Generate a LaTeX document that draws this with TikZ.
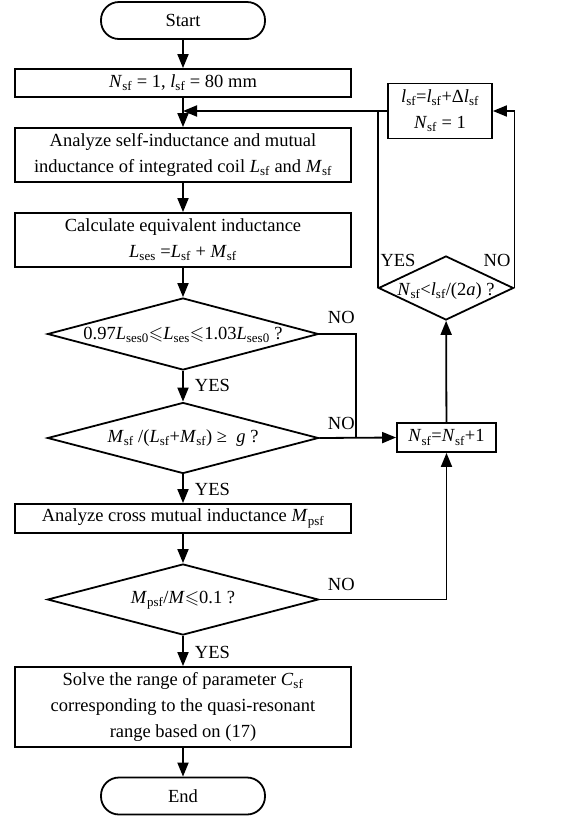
\documentclass[tikz,border=0pt]{standalone}
\usepackage{fontspec}
\setmainfont{Liberation Serif}
\usepackage{amssymb}
\usetikzlibrary{arrows.meta,shapes.geometric}
\newcommand{\vsub}[2]{\textit{#1}\textsubscript{#2}}

\begin{document}
\begin{tikzpicture}[x=1pt,y=-1pt,
  font=\fontsize{18.5}{26}\selectfont,
  line width=1.8pt,
  box/.style={draw,rectangle,align=center,inner sep=0pt,minimum width=336pt},
  term/.style={draw,rectangle,rounded corners=18pt,minimum width=164pt,minimum height=37pt,inner sep=0pt},
  dia/.style={draw,diamond,inner sep=0pt},
  arr/.style={-{Triangle[length=14pt,width=11pt]}},
  lab/.style={inner sep=0pt,anchor=west}]
\useasboundingbox (0,0) rectangle (565,820);

% main column
\node[term] (start) at (183,20.5) {Start};
\node[box,minimum height=28pt] (init) at (183,83) {\vsub{N}{sf} = 1, \vsub{l}{sf} = 80 mm};
\node[box,minimum height=54pt] (self) at (183,155)
  {Analyze self-inductance and mutual\\inductance of integrated coil \vsub{L}{sf} and \vsub{M}{sf}};
\node[box,minimum height=54pt] (equi) at (183,240)
  {Calculate equivalent inductance\\\vsub{L}{ses} =\vsub{L}{sf} + \vsub{M}{sf}};
\node[dia,minimum width=271pt,minimum height=72pt] (chk1) at (183,334) {};
\node (chk1t) at (183,335) {0.97\vsub{L}{ses0}$\leqslant$\vsub{L}{ses}$\leqslant$1.03\vsub{L}{ses0} ?};
\node[dia,minimum width=271pt,minimum height=71pt] (chk2) at (183,438) {};
\node (chk2t) at (183,438) {\vsub{M}{sf} /(\vsub{L}{sf}+\vsub{M}{sf}) ≥ \ \textit{g} ?};
\node[box,minimum height=29pt] (cross) at (183,518.5) {Analyze cross mutual inductance \vsub{M}{psf}};
\node[dia,minimum width=271pt,minimum height=71pt] (chk3) at (183,599.5) {};
\node (chk3t) at (183,600) {\vsub{M}{psf}/\textit{M}$\leqslant$0.1 ?};
\node[box,minimum height=80pt] (solve) at (183,707)
  {Solve the range of parameter \vsub{C}{sf}\\corresponding to the quasi-resonant\\range based on (17)};
\node[term] (end) at (183,796) {End};

% loop column
\node[box,minimum width=104pt,minimum height=55pt] (len) at (440,111)
  {\vsub{l}{sf}=\vsub{l}{sf}+Δ\vsub{l}{sf}\\\vsub{N}{sf} = 1};
\node[dia,minimum width=135pt,minimum height=64pt] (chk4) at (446,288) {};
\node (chk4t) at (446,291) {\vsub{N}{sf}<\vsub{l}{sf}/(2\textit{a}) ?};
\node[box,minimum width=99pt,minimum height=29pt] (inc) at (446.5,437.5) {\vsub{N}{sf}=\vsub{N}{sf}+1};

\coordinate (mrg) at (init.south |- len.west);
\coordinate (jn) at (356,438);

\draw[arr] (start) -- (init);
\draw[arr] (init) -- (self);
\draw[arr] (len) -- (mrg);
\draw[arr] (self) -- (equi);
\draw[arr] (equi) -- (chk1);
\draw[arr] (chk1) -- (chk2);
\draw[arr] (chk2) -- (cross);
\draw[arr] (cross) -- (chk3);
\draw[arr] (chk3) -- (solve);
\draw[arr] (solve) -- (end);

\draw (chk1.east) -| (jn);
\draw[arr] (chk2.east) -- (inc.west);
\draw[arr] (chk3.east) -| (inc.south);
\draw[arr] (inc) -- (chk4);
\draw (chk4.west) |- (len.west);
\draw[arr] (chk4.east) |- (len.east);

% labels
\node[lab] (y1) at (194,385) {YES};
\node[lab] (y2) at (194,489) {YES};
\node[lab] (y3) at (194,652) {YES};
\node[lab] (n1) at (327,317) {NO};
\node[lab] (n2) at (327,423) {NO};
\node[lab] (n3) at (327,584) {NO};
\node (y4) at (398,260) {YES};
\node (n4) at (497,260) {NO};
\end{tikzpicture}
\end{document}
